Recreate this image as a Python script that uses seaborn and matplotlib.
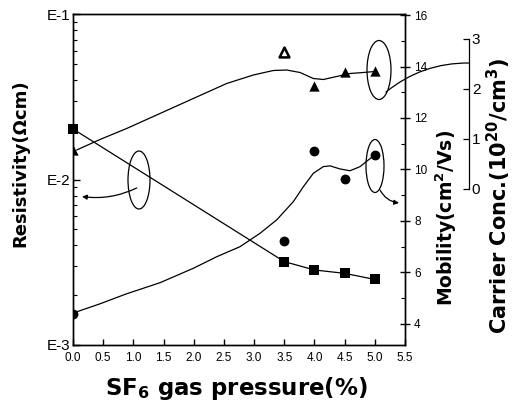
import matplotlib
matplotlib.use("Agg")
import matplotlib.pyplot as plt
import seaborn as sns
import numpy as np
from matplotlib.patches import Ellipse, FancyArrowPatch
from matplotlib.ticker import FixedLocator, FuncFormatter, LogLocator, MultipleLocator

# ---- data ----
pressure = [0.0, 3.5, 4.0, 4.5, 5.0]
resistivity = [0.0202, 0.00319, 0.00284, 0.00271, 0.00249]
mobility = [4.38, 7.22, 10.72, 9.62, 10.57]
carrier = [0.78, 2.75, 2.07, 2.35, 2.36]
carrier_open = [False, True, False, False, False]

mob_curve_x = [0.0, 0.447, 0.889, 1.441, 1.993, 2.381, 2.767, 3.098, 3.374, 3.650,
               3.816, 3.981, 4.147, 4.258, 4.423, 4.589, 4.755, 4.893, 5.0]
mob_curve_y = [4.42, 4.78, 5.17, 5.60, 6.16, 6.61, 7.00, 7.52, 8.04, 8.75,
               9.33, 9.85, 10.11, 10.14, 10.02, 9.95, 10.11, 10.37, 10.56]

car_curve_x = [0.061, 0.447, 0.889, 1.441, 1.993, 2.546, 2.987, 3.319, 3.540, 3.761,
               3.981, 4.147, 4.368, 4.589, 4.810, 5.0]
car_curve_y = [0.78, 0.99, 1.21, 1.51, 1.81, 2.11, 2.28, 2.37, 2.38, 2.33,
               2.21, 2.19, 2.25, 2.31, 2.33, 2.35]

x_ticks = [0.0, 0.5, 1.0, 1.5, 2.0, 2.5, 3.0, 3.5, 4.0, 4.5, 5.0, 5.5]
res_ticks = [1e-3, 1e-2, 1e-1]
res_labels = ["E-3", "E-2", "E-1"]
mob_ticks = [4, 6, 8, 10, 12, 14, 16]
car_ticks = [0, 1, 2, 3]

sns.set_theme(style="ticks")
plt.rcParams["font.family"] = ["Liberation Sans", "DejaVu Sans"]
plt.rcParams["mathtext.fontset"] = "custom"
plt.rcParams["mathtext.rm"] = "DejaVu Sans:bold"
plt.rcParams["mathtext.bf"] = "DejaVu Sans:bold"
plt.rcParams["mathtext.it"] = "DejaVu Sans:bold"
plt.rcParams["axes.linewidth"] = 1.0
for k in ["text.color", "axes.labelcolor", "xtick.color", "ytick.color", "axes.edgecolor"]:
    plt.rcParams[k] = "black"

W, H = 513, 405
fig = plt.figure(figsize=(W / 100, H / 100), dpi=100)
L, R, T, B = 73, 405, 14, 345
ax = fig.add_axes([L / W, 1 - B / H, (R - L) / W, (B - T) / H])
ax.set_facecolor("none")

# Resistivity (left, log)
sns.lineplot(x=pressure, y=resistivity, ax=ax, color="black", lw=0.9,
             estimator=None, sort=False)
sns.scatterplot(x=pressure, y=resistivity, ax=ax, marker="s", s=42, color="black",
                edgecolor="black", linewidth=0, clip_on=False, zorder=5)
ax.set_yscale("log")
ax.set_ylim(1e-3, 1e-1)
ax.set_xlim(0, 5.5)
ax.set_xticks(x_ticks)
ax.set_xticklabels([f"{v:.1f}" for v in x_ticks], fontsize=8.5)
ax.yaxis.set_major_locator(FixedLocator(res_ticks))
ax.yaxis.set_major_formatter(FuncFormatter(lambda v, p: res_labels[res_ticks.index(v)] if v in res_ticks else ""))
ax.yaxis.set_minor_locator(LogLocator(base=10, subs=np.arange(2, 10)))
ax.yaxis.set_minor_formatter(FuncFormatter(lambda v, p: ""))
ax.tick_params(axis="y", which="major", direction="in", length=5, width=1, labelsize=11, pad=2)
ax.tick_params(axis="y", which="minor", direction="in", length=3, width=0.8)
ax.tick_params(axis="x", which="major", direction="in", length=4, width=1, pad=5)
ax.set_xlabel("")
ax.set_ylabel("")

# Mobility (right)
ax2 = ax.twinx()
sns.lineplot(x=mob_curve_x, y=mob_curve_y, ax=ax2, color="black", lw=0.9,
             estimator=None, sort=False)
sns.scatterplot(x=pressure, y=mobility, ax=ax2, marker="o", s=50, color="black",
                edgecolor="black", linewidth=0, zorder=5)
ax2.set_ylim(3.18, 16.04)
ax2.set_yticks(mob_ticks)
ax2.set_yticklabels([str(v) for v in mob_ticks], fontsize=8.5)
ax2.yaxis.set_minor_locator(MultipleLocator(1))
ax2.tick_params(axis="y", which="major", direction="inout", length=7, width=1, pad=3)
ax2.tick_params(axis="y", which="minor", direction="in", length=3, width=0.8)
ax2.set_ylabel("")

# Carrier concentration (offset right)
ax3 = ax.twinx()
sns.lineplot(x=car_curve_x, y=car_curve_y, ax=ax3, color="black", lw=0.9,
             estimator=None, sort=False)
px_f = [p for p, o in zip(pressure, carrier_open) if not o]
cy_f = [c for c, o in zip(carrier, carrier_open) if not o]
px_o = [p for p, o in zip(pressure, carrier_open) if o]
cy_o = [c for c, o in zip(carrier, carrier_open) if o]
sns.scatterplot(x=px_f, y=cy_f, ax=ax3, marker="^", s=55, color="black",
                edgecolor="black", linewidth=0, zorder=5)
sns.scatterplot(x=px_o, y=cy_o, ax=ax3, marker="^", s=50, color="white",
                edgecolor="black", linewidth=1.8, zorder=5)
ax3.set_ylim(-3.12, 3.5)
ax3.spines["right"].set_position(("axes", (469 - L) / (R - L)))
ax3.spines["right"].set_bounds(0, 3)
ax3.spines["right"].set_linewidth(0.9)
for k in ["top", "left", "bottom"]:
    ax3.spines[k].set_visible(False)
ax3.set_yticks(car_ticks)
ax3.set_yticklabels([str(v) for v in car_ticks], fontsize=11)
ax3.tick_params(axis="y", which="major", direction="in", length=4, width=0.9, pad=2)
ax3.set_ylabel("")

# ---- annotation ellipses & arrows (axes-fraction positions) ----
def af(px, py):
    return ((px - L) / (R - L), (B - py) / (B - T))

def ell(cx, cy, w, h):
    x, y = af(cx, cy)
    e = Ellipse((x, y), w / (R - L), h / (B - T), transform=ax.transAxes,
                fill=False, edgecolor="black", lw=0.9, clip_on=False)
    ax.add_patch(e)

ell(379, 70, 24, 59)
ell(375, 166, 18, 53)
ell(139, 180, 22, 58)

def arrow(p0, p1, rad, style):
    a = FancyArrowPatch(af(*p0), af(*p1), transform=ax.transAxes,
                        connectionstyle=f"arc3,rad={rad}", arrowstyle=style,
                        mutation_scale=7, color="black", lw=0.9, clip_on=False,
                        shrinkA=0, shrinkB=0)
    ax.add_patch(a)

arrow((136.7, 188), (82, 196.5), -0.15, "-|>")
arrow((380, 190), (399, 203), 0.25, "-|>")
arrow((386, 92), (469, 63), -0.18, "-")

# ---- labels ----
lab = dict(fontweight="bold", family=["DejaVu Sans"], color="black")
fig.text(20 / W, 1 - 163 / H, "Resistivity(Ωcm)", rotation=90, ha="center", va="center",
         fontsize=13, **lab)
fig.text(446 / W, 1 - 218 / H, "Mobility(cm$^{2}$/Vs)", rotation=90, ha="center", va="center",
         fontsize=13.5, **lab)
fig.text(499 / W, 1 - 196 / H, "Carrier Conc.(10$^{20}$/cm$^{3}$)", rotation=90, ha="center",
         va="center", fontsize=15, **lab)
fig.text(236 / W, 1 - 389 / H, "SF$_{6}$ gas pressure(%)", ha="center", va="center",
         fontsize=16.5, **lab)

fig.savefig("out.png", dpi=100)
